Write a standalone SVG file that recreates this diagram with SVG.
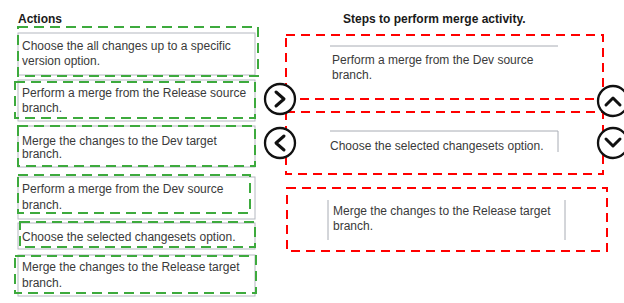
<svg xmlns="http://www.w3.org/2000/svg" width="624" height="303" viewBox="0 0 624 303">
<style>
.t{font-family:"Liberation Sans",Arial,sans-serif;font-size:12px;fill:#3a3a3a}
.h{font-family:"Liberation Sans",Arial,sans-serif;font-size:12px;font-weight:bold;fill:#1a1a1a}
.box{fill:#ffffff;stroke:#b4b8c0;stroke-width:1}
.g{fill:none;stroke:#3daa3d;stroke-width:2;stroke-dasharray:10 6}
.r{fill:none;stroke:#ff0000;stroke-width:2;stroke-dasharray:9 6}
.ln{stroke:#a8acb4;stroke-width:1;fill:none}
.btn{fill:#ffffff;stroke:#111111;stroke-width:2.3}
.chev{fill:none;stroke:#111111;stroke-width:3;stroke-linecap:round;stroke-linejoin:round}
</style>
<rect width="624" height="303" fill="#ffffff"/>
<text class="h" x="18" y="23">Actions</text>
<text class="h" x="343" y="23">Steps to perform merge activity.</text>

<g id="action1">
<rect class="box" x="18" y="33" width="237" height="42"/>
<text class="t" x="22" y="50">Choose the all changes up to a specific</text>
<text class="t" x="22" y="65">version option.</text>
<rect class="g" x="18" y="27" width="240" height="49"/>
</g>
<g id="action2">
<rect class="box" x="18" y="80" width="237" height="41"/>
<text class="t" x="22" y="97">Perform a merge from the Release source</text>
<text class="t" x="22" y="112">branch.</text>
<rect class="g" x="15" y="82" width="240" height="36"/>
</g>
<g id="action3">
<rect class="box" x="18" y="126" width="237" height="41"/>
<text class="t" x="22" y="145">Merge the changes to the Dev target</text>
<text class="t" x="22" y="158">branch.</text>
<rect class="g" x="18" y="126" width="237" height="40"/>
</g>
<g id="action4">
<rect class="box" x="18" y="177" width="237" height="42"/>
<text class="t" x="22" y="193">Perform a merge from the Dev source</text>
<text class="t" x="22" y="209">branch.</text>
<rect class="g" x="18" y="175" width="232" height="38"/>
</g>
<g id="action5">
<rect class="box" x="18" y="223" width="237" height="26"/>
<text class="t" x="22" y="241">Choose the selected changesets option.</text>
<rect class="g" x="20" y="222" width="235" height="25"/>
</g>
<g id="action6">
<rect class="box" x="18" y="255" width="237" height="41"/>
<text class="t" x="22" y="271">Merge the changes to the Release target</text>
<text class="t" x="22" y="287">branch.</text>
<rect class="g" x="15" y="256" width="241" height="37"/>
</g>

<g id="step1">
<line class="ln" x1="330" y1="46" x2="558" y2="46"/>
<text class="t" x="332" y="64">Perform a merge from the Dev source</text>
<text class="t" x="332" y="79">branch.</text>
</g>
<g id="step2">
<polyline class="ln" points="330,131 558,131 558,152"/>
<text class="t" x="330" y="150">Choose the selected changesets option.</text>
</g>
<g id="step3">
<line class="ln" x1="328" y1="200" x2="328" y2="240"/>
<line class="ln" x1="565" y1="200" x2="565" y2="240"/>
<text class="t" x="333" y="215">Merge the changes to the Release target</text>
<text class="t" x="333" y="230">branch.</text>
</g>

<g id="connectors">
<rect class="r" x="286" y="35" width="317" height="64"/>
<rect class="r" x="286" y="112" width="317" height="62"/>
<rect class="r" x="287" y="188" width="320" height="63"/>
</g>

<g id="btn-right">
<circle class="btn" cx="280" cy="99" r="15"/>
<polyline class="chev" points="276,92 284,99 276,106"/>
</g>
<g id="btn-left">
<circle class="btn" cx="280" cy="143" r="15"/>
<polyline class="chev" points="284,136 276,143 284,150"/>
</g>
<g id="btn-up">
<circle class="btn" cx="613" cy="101" r="15"/>
<polyline class="chev" points="606,105 613,98 620,105"/>
</g>
<g id="btn-down">
<circle class="btn" cx="613" cy="143" r="15"/>
<polyline class="chev" points="606,139 613,146 620,139"/>
</g>
</svg>
